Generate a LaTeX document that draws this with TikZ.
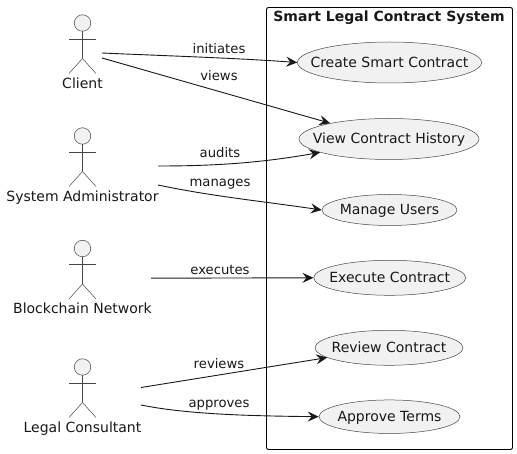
\documentclass[tikz,border=0pt]{standalone}
\usepackage{fontspec}
\setmainfont{DejaVu Sans}
\usetikzlibrary{positioning, arrows.meta, calc, shapes.geometric}
\definecolor{inkblack}{HTML}{181818}
\definecolor{softgrey}{HTML}{F1F1F1}
\tikzset{
    usecase/.style={draw=inkblack!80, line width=0.5pt, fill=softgrey, ellipse, inner xsep=-24pt, inner ysep=0pt, text height=11pt, text depth=1pt, text=inkblack, font=\fontsize{14}{16}\selectfont},
    actorhead/.style={draw=inkblack!80, line width=0.5pt, fill=softgrey, circle, inner sep=0pt, minimum size=16.5pt},
    actorline/.style={draw=inkblack!80, line width=0.5pt},
    flow/.style={->, line width=0.9pt, draw=inkblack},
    flowtext/.style={inner sep=0pt, anchor=base, text=inkblack, font=\fontsize{13.2}{15}\selectfont},
    nametext/.style={inner sep=0pt, anchor=base, text=inkblack, font=\fontsize{14}{16}\selectfont}
}
\begin{document}
\begin{tikzpicture}[x=1pt, y=-1pt, >={Stealth[length=11pt, width=10pt, inset=4pt]}]
    \useasboundingbox (0,0) rectangle (517,454);
    % System frame
    \draw[line width=0.9pt, rounded corners=2pt] (266.5,7.5) rectangle (512.5,449.5);
    \node[nametext, font=\fontsize{14}{16}\selectfont\bfseries] (systitle) at (389,22) {Smart Legal Contract System};
    % Actors: head height is the only thing that changes
    \foreach \name/\y/\actorname in {client/23/Client, admin/136/System Administrator, chain/248.5/Blockchain Network, legal/367/Legal Consultant} {
        \node[actorhead] (\name) at (82.5,\y) {};
        \draw[actorline] (\name.south) -- ++(0,27) coordinate (\name crotch);
        \draw[actorline] ($(\name)+(-13.5,16)$) coordinate (\name arml) -- ($(\name)+(13.5,16)$) coordinate (\name armr);
        \draw[actorline] ($(\name crotch)+(-13.5,15)$) coordinate (\name footl) -- (\name crotch) -- ($(\name crotch)+(13.5,15)$) coordinate (\name footr);
        \node[nametext] (\name label) at (82.5,\y+65.5) {\actorname};
    }
    % Use cases
    \node[usecase, minimum width=184pt, minimum height=41pt] (create) at (389.5,62.5) {Create Smart Contract};
    \node[usecase, minimum width=180pt, minimum height=41pt] (history) at (389,139) {View Contract History};
    \node[usecase, minimum width=135pt, minimum height=31pt] (manage) at (389.5,210) {Manage Users};
    \node[usecase, minimum width=152pt, minimum height=35pt] (execute) at (389.7,277.8) {Execute Contract};
    \node[usecase, minimum width=148pt, minimum height=35pt] (review) at (389,347.8) {Review Contract};
    \node[usecase, minimum width=141pt, minimum height=33.5pt] (approve) at (389.5,416.7) {Approve Terms};
    % Free ends on the actor side
    \coordinate (clientA) at (102,53);
    \coordinate (clientB) at (102,58);
    \coordinate (adminA) at (158,166);
    \coordinate (adminB) at (158,185);
    \coordinate (chainA) at (151,278.2);
    \coordinate (legalA) at (141,387.5);
    \coordinate (legalB) at (141,405);
    % Connectors
    \draw[flow] (clientA) .. controls (170,56) and (235,58) .. (create.west);
    \draw[flow] (clientB) -- (history.165);
    \draw[flow] (adminA) .. controls (215,166) and (260,163) .. (history.191);
    \draw[flow] (adminB) .. controls (210,196) and (260,201) .. (manage.west);
    \draw[flow] (chainA) -- (execute.west);
    \draw[flow] (legalA) -- (review.189);
    \draw[flow] (legalB) .. controls (190,415) and (260,416) .. (approve.west);
    % Connector labels
    \node[flowtext] (initiates) at (219,53.7) {initiates};
    \node[flowtext] (views) at (219,80.7) {views};
    \node[flowtext] (audits) at (220,158) {audits};
    \node[flowtext] (manages) at (220,187) {manages};
    \node[flowtext] (executes) at (220,274.5) {executes};
    \node[flowtext] (reviews) at (219,368.5) {reviews};
    \node[flowtext] (approves) at (219,407.2) {approves};
\end{tikzpicture}
\end{document}
